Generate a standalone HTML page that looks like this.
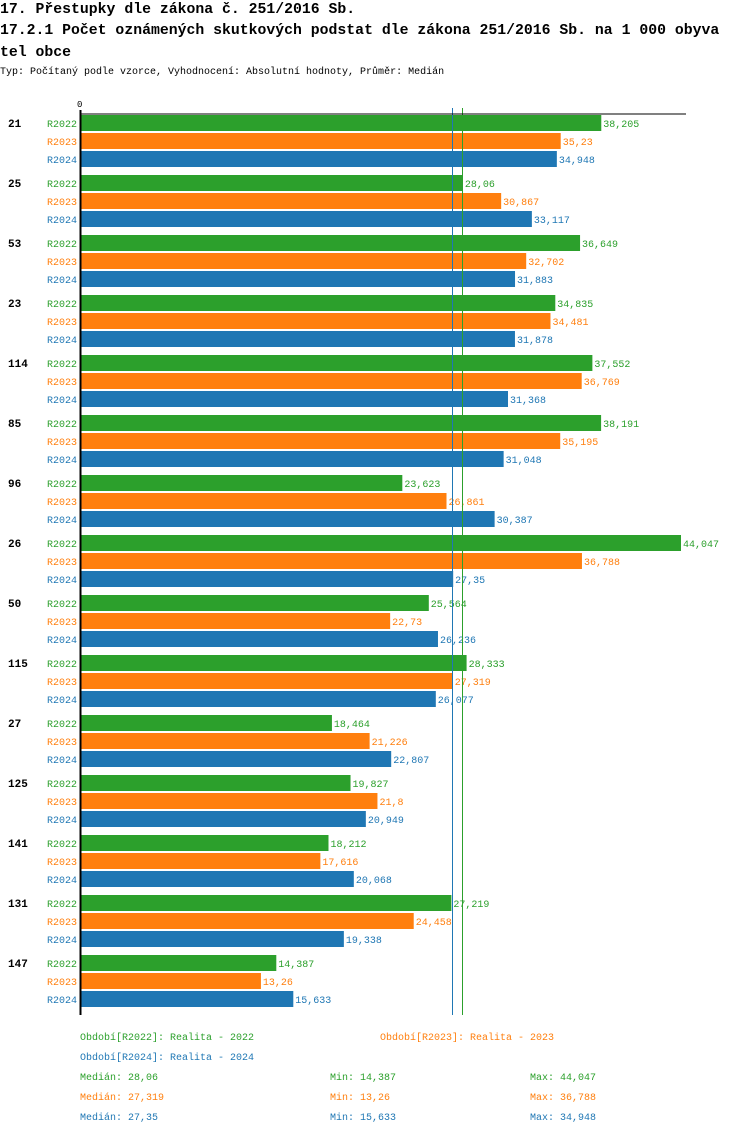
<!DOCTYPE html>
<html><head><meta charset="utf-8"><style>
body{margin:0;background:#fff;width:750px;height:1134px;overflow:hidden;font-family:"Liberation Mono",monospace}
.t{position:absolute;left:0;font-weight:bold;font-size:14.8px;white-space:nowrap;letter-spacing:0}
</style></head><body>
<div class="t" style="top:2px">17. Přestupky dle zákona č. 251/2016 Sb.</div>
<div class="t" style="top:23px">17.2.1 Počet oznámených skutkových podstat dle zákona 251/2016 Sb. na 1 000 obyva</div>
<div class="t" style="top:45px">tel obce</div>
<div style="position:absolute;top:67px;left:0;font-size:10px">Typ: Počítaný podle vzorce, Vyhodnocení: Absolutní hodnoty, Průměr: Medián</div>
<svg id="c" width="750" height="1134" style="position:absolute;left:0;top:0" font-family="Liberation Mono, monospace" font-size="10"></svg>
<script>
const categories=["21","25","53","23","114","85","96","26","50","115","27","125","141","131","147"];
const r2022=[38.205,28.06,36.649,34.835,37.552,38.191,23.623,44.047,25.564,28.333,18.464,19.827,18.212,27.219,14.387];
const r2023=[35.23,30.867,32.702,34.481,36.769,35.195,26.861,36.788,22.73,27.319,21.226,21.8,17.616,24.458,13.26];
const r2024=[34.948,33.117,31.883,31.878,31.368,31.048,30.387,27.35,26.236,26.077,22.807,20.949,20.068,19.338,15.633];
const seriesNames=["R2022","R2023","R2024"];
const colors=["#2ca02c","#ff7f0e","#1f77b4"];
const medians=[28.06,27.319,27.35];
const mins=[14.387,13.26,15.633];
const maxs=[44.047,36.788,34.948];
const series=[r2022,r2023,r2024];
const svg=document.getElementById('c');
const NS='http://www.w3.org/2000/svg';
const x0=80,scale=601/44.047;
const X=v=>x0+v*scale;
const Y=(g,s)=>115+g*60+s*18;
function mk(tag,attrs,txt){const e=document.createElementNS(NS,tag);for(const k in attrs)e.setAttribute(k,attrs[k]);if(txt!==undefined)e.textContent=txt;svg.appendChild(e);return e;}
const fmt=v=>String(v).replace('.',',');
categories.forEach((c,g)=>{
  let t=mk('text',{x:8,y:Y(g,0)+12,'font-weight':'bold','font-size':'11'},c);
  
  
  series.forEach((arr,s)=>{
    const y=Y(g,s);
    let l=mk('text',{x:47,y:y+12,fill:colors[s]},seriesNames[s]);
    
    
    let r=mk('rect',{x:x0,y:y,width:X(arr[g])-x0,height:16,fill:colors[s]});
    
    
    let v=mk('text',{x:X(arr[g])+2,y:y+12,fill:colors[s]},fmt(arr[g]));
    
    
  });
});
[1,0,2].forEach(s=>{const m=medians[s];const px=Math.floor(X(m)-0.5)+0.5;
  let ln=mk('line',{x1:px,x2:px,y1:108,y2:1015,stroke:colors[s],'stroke-width':1,'shape-rendering':'crispEdges'});
  
  
});
let ax=mk('line',{x1:80,x2:686,y1:114,y2:114,stroke:'#000','stroke-width':1});


let ay=mk('line',{x1:80.5,x2:80.5,y1:110,y2:1015,stroke:'#000','stroke-width':2});


let z=mk('text',{x:77,y:107,'font-size':'9'},'0');


const leg=[[80,1040,0,'Období[R2022]: Realita - 2022'],[380,1040,1,'Období[R2023]: Realita - 2023'],[80,1060,2,'Období[R2024]: Realita - 2024']];
leg.forEach(a=>{let e=mk('text',{x:a[0],y:a[1],fill:colors[a[2]]},a[3]);

});
[0,1,2].forEach(s=>{const y=1080+s*20;
let a=mk('text',{x:80,y:y,fill:colors[s]},'Medián: '+fmt(medians[s]));


let b=mk('text',{x:330,y:y,fill:colors[s]},'Min: '+fmt(mins[s]));


let d=mk('text',{x:530,y:y,fill:colors[s]},'Max: '+fmt(maxs[s]));

});
</script>
</body></html>
